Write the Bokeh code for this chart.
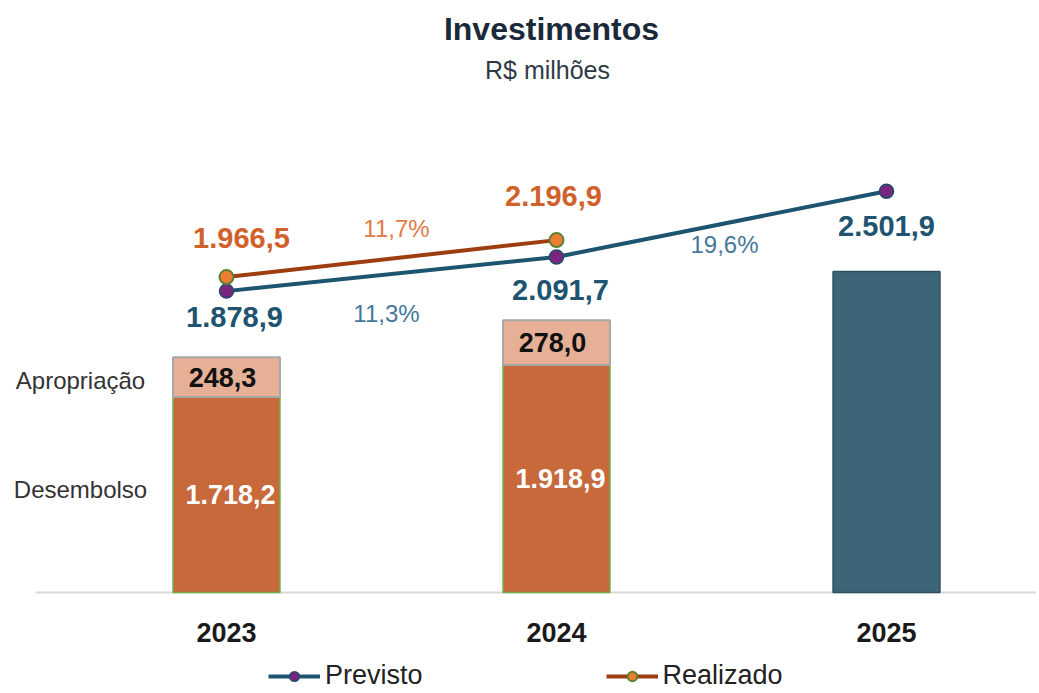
from bokeh.plotting import figure
from bokeh.models import Range1d, Label, Legend, LegendItem
from bokeh.core.properties import value
from bokeh.embed import file_html
from bokeh.resources import INLINE

# ---------------- data ----------------
years = ["2023", "2024", "2025"]
desembolso = [1718.2, 1918.9]          # 2023, 2024
apropriacao = [248.3, 278.0]           # 2023, 2024
previsto = [1878.9, 2091.7, 2501.9]    # 2023..2025
realizado = [1966.5, 2196.9]           # 2023, 2024
seg_labels = ["Apropriação", "Desembolso"]
title_txt = "Investimentos"
subtitle_txt = "R$ milhões"

def br(v, d=1):
    s = f"{v:,.{d}f}"
    return s.replace(",", "X").replace(".", ",").replace("X", ".")

# ---------------- layout constants ----------------
W, H = 1036, 690
FONT = "Liberation Sans"
PX_X = 330.0        # px per category
X0_PX = 226.0       # px of first category
BASE_PX = 592.0     # px of baseline from top
K = 0.1604          # px per value unit
BASE = 500.0        # bar axis minimum

xr = Range1d(-X0_PX / PX_X, (W - X0_PX) / PX_X)
yr = Range1d(-(H - BASE_PX) / K, BASE_PX / K)              # line axis (0-based)
p = figure(width=W, height=H, x_range=xr, y_range=yr,
           output_backend="svg", toolbar_location=None,
           min_border=0, min_border_left=0, min_border_right=0,
           min_border_top=0, min_border_bottom=0)
p.extra_y_ranges = {"bars": Range1d(yr.start + BASE, yr.end + BASE)}
p.axis.visible = False
p.grid.visible = False
p.outline_line_color = None
p.background_fill_color = "white"
p.border_fill_color = "white"

xs = list(range(len(years)))
bw = 0.324

# baseline
p.segment(x0=[xr.start + 35 / PX_X], x1=[xr.end], y0=[BASE], y1=[BASE],
          y_range_name="bars", line_color="#D9D9D9", line_width=2)

# stacked bars 2023, 2024
n = len(desembolso)
tops_d = desembolso
tops_a = [d + a for d, a in zip(desembolso, apropriacao)]
p.vbar(x=xs[:n], width=bw, bottom=BASE, top=tops_d, y_range_name="bars",
       fill_color="#C8693C", line_color="#70AD47", line_width=1.5)
p.vbar(x=xs[:n], width=bw, bottom=tops_d, top=tops_a, y_range_name="bars",
       fill_color="#E6B096", line_color="#A6A6A6", line_width=2)
# 2025 bar (previsto)
p.vbar(x=xs[n:], width=bw, bottom=BASE, top=previsto[n:], y_range_name="bars",
       fill_color="#3E6478", line_color="#2E5064", line_width=1.5)

# bar labels
p.text(x=xs[:n], y=[(BASE + d) / 2 for d in tops_d], text=[br(v) for v in desembolso],
       y_range_name="bars", text_font=value(FONT), text_font_size="27px",
       text_font_style="bold", text_color="white", text_align="center",
       text_baseline="middle", x_offset=4)
p.text(x=xs[:n], y=[(d + t) / 2 for d, t in zip(tops_d, tops_a)],
       text=[br(v) for v in apropriacao], y_range_name="bars",
       text_font=value(FONT), text_font_size="27px", text_font_style="bold",
       text_color="#111111", text_align="center", text_baseline="middle", x_offset=-4)

# segment names at left
p.text(x=[xs[0], xs[0]], y=[(tops_d[0] + tops_a[0]) / 2, (BASE + tops_d[0]) / 2],
       text=seg_labels, y_range_name="bars", text_font=value(FONT),
       text_font_size="24px", text_color="#333333", text_align="center",
       text_baseline="middle", x_offset=-146, y_offset=[3, -5])

# year labels
p.text(x=xs, y=[BASE] * len(xs), text=years, y_range_name="bars",
       text_font=value(FONT), text_font_size="27px", text_font_style="bold",
       text_color="#1A1A1A", text_align="center", text_baseline="middle",
       y_offset=40)

# lines
prev_line = p.line(x=xs, y=previsto, line_color="#1D5470", line_width=4)
prev_pts = p.scatter(x=xs, y=previsto, size=14, fill_color="#7B2580",
                     line_color="#1D4E68", line_width=1.5)
real_line = p.line(x=xs[:len(realizado)], y=realizado, line_color="#9E3D10", line_width=4)
real_pts = p.scatter(x=xs[:len(realizado)], y=realizado, size=14, fill_color="#ED7D31",
                     line_color="#5B8232", line_width=2)

# value labels
p.text(x=xs[:len(realizado)], y=realizado, text=[br(v) for v in realizado],
       text_font=value(FONT), text_font_size="29px", text_font_style="bold",
       text_color="#D0612A", text_align="center", text_baseline="middle",
       x_offset=[15, -3], y_offset=[-39, -44])
p.text(x=xs, y=previsto, text=[br(v) for v in previsto],
       text_font=value(FONT), text_font_size="29px", text_font_style="bold",
       text_color="#1F5470", text_align="center", text_baseline="middle",
       x_offset=[8, 4, 0], y_offset=[26, 33, 35])

# growth labels
real_g = [br((b / a - 1) * 100) + "%" for a, b in zip(realizado[:-1], realizado[1:])]
prev_g = [br((b / a - 1) * 100) + "%" for a, b in zip(previsto[:-1], previsto[1:])]
p.text(x=[i + 0.5 for i in range(len(real_g))],
       y=[(a + b) / 2 for a, b in zip(realizado[:-1], realizado[1:])], text=real_g,
       text_font=value(FONT), text_font_size="24px", text_color="#E07B45",
       text_align="center", text_baseline="middle", x_offset=5, y_offset=-30)
p.text(x=[i + 0.5 for i in range(len(prev_g))],
       y=[(a + b) / 2 for a, b in zip(previsto[:-1], previsto[1:])], text=prev_g,
       text_font=value(FONT), text_font_size="24px", text_color="#46789A",
       text_align="center", text_baseline="middle", x_offset=[-5, 3], y_offset=[39, 20])

# title
p.add_layout(Label(x=551, y=H - 28, x_units="screen", y_units="screen", text=title_txt,
                   text_font=FONT, text_font_size="32px", text_font_style="bold",
                   text_color="#1B2A3A", text_align="center", text_baseline="middle"))
p.add_layout(Label(x=547, y=H - 69, x_units="screen", y_units="screen", text=subtitle_txt,
                   text_font=FONT, text_font_size="25px",
                   text_color="#2E3A46", text_align="center", text_baseline="middle"))

# legend
leg = Legend(items=[LegendItem(label="Previsto", renderers=[prev_line, prev_pts]),
                    LegendItem(label="Realizado", renderers=[real_line, real_pts])],
             orientation="horizontal", location=(268, -1), spacing=183,
             glyph_width=52, glyph_height=24, label_standoff=5, padding=0, margin=0,
             label_text_font=FONT, label_text_font_size="27px", label_text_color="#222222",
             border_line_color=None, background_fill_alpha=0)
p.add_layout(leg, "center")

open("out.html", "w").write(file_html(p, INLINE))
